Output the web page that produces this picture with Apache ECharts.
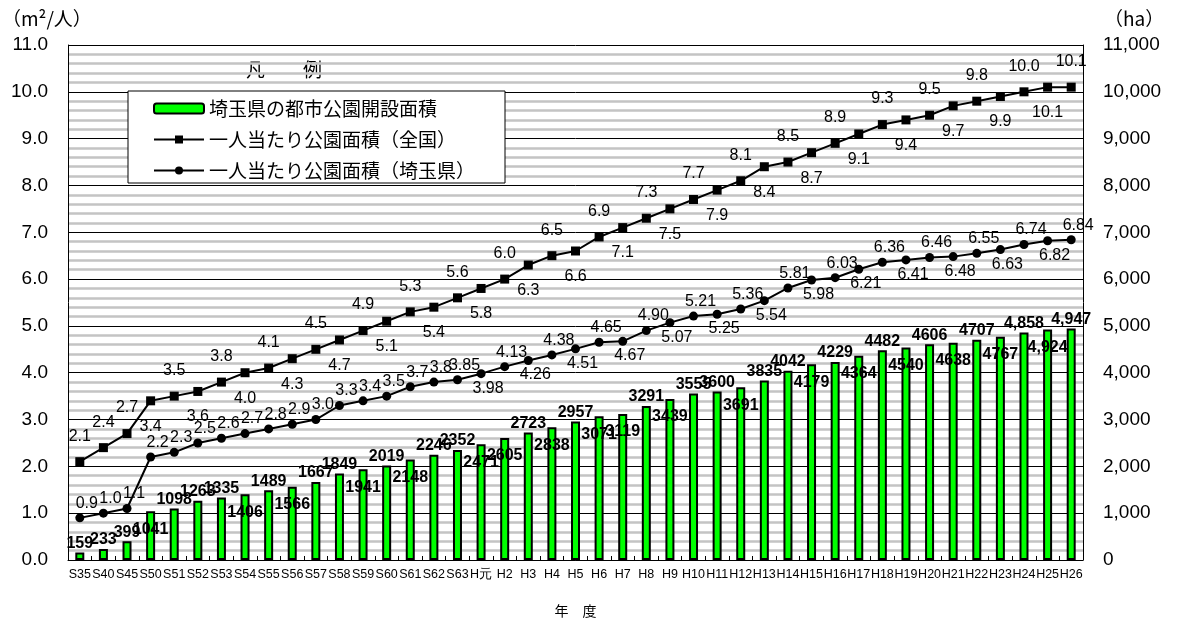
<!DOCTYPE html>
<html><head><meta charset="utf-8">
<script src="https://cdn.jsdelivr.net/npm/echarts@6/dist/echarts.min.js"></script>
<style>html,body{margin:0;padding:0;background:#fff}#c{width:1177px;height:623px}</style>
</head><body><div id="c"></div>
<script>
const categories = ['S35','S40','S45','S50','S51','S52','S53','S54','S55','S56','S57','S58','S59','S60','S61','S62','S63',
  'H元','H2','H3','H4','H5','H6','H7','H8','H9','H10','H11','H12','H13','H14','H15','H16','H17','H18','H19','H20','H21','H22','H23','H24','H25','H26'];
const parkArea = [159,233,399,1041,1098,1263,1335,1406,1489,1566,1667,1849,1941,2019,2148,2246,2352,
  2471,2605,2723,2838,2957,3071,3119,3291,3439,3555,3600,3691,3835,4042,4179,4229,4364,4482,4540,4606,4638,4707,4767,4858,4924,4947];
const nationalPerCapita = [2.1,2.4,2.7,3.4,3.5,3.6,3.8,4.0,4.1,4.3,4.5,4.7,4.9,5.1,5.3,5.4,5.6,
  5.8,6.0,6.3,6.5,6.6,6.9,7.1,7.3,7.5,7.7,7.9,8.1,8.4,8.5,8.7,8.9,9.1,9.3,9.4,9.5,9.7,9.8,9.9,10.0,10.1,10.1];
const saitamaPerCapita = [0.9,1.0,1.1,2.2,2.3,2.5,2.6,2.7,2.8,2.9,3.0,3.3,3.4,3.5,3.7,3.8,3.85,
  3.98,4.13,4.26,4.38,4.51,4.65,4.67,4.90,5.07,5.21,5.25,5.36,5.54,5.81,5.98,6.03,6.21,6.36,6.41,6.46,6.48,6.55,6.63,6.74,6.82,6.84];
const nationalDecimals = 1;
const saitamaDecimals = [1,1,1,1,1,1,1,1,1,1,1,1,1,1,1,1,2,2,2,2,2,2,2,2,2,2,2,2,2,2,2,2,2,2,2,2,2,2,2,2,2,2,2];
const seriesNames = ['埼玉県の都市公園開設面積','一人当たり公園面積（全国）','一人当たり公園面積（埼玉県）'];
// label placement (style, not data)
const barLabelBelow = ['S50','S54','S56','S59','S61','H元','H2','H4','H6','H7','H9','H12','H15','H17','H19','H21','H23','H25'];
const barLabelComma = ['H24','H25','H26'];

const numFont = 'Liberation Sans, Arial, sans-serif';
const jpFont = 'Noto Sans CJK JP, sans-serif';

const barData = parkArea.map((v, i) => {
  const below = barLabelBelow.includes(categories[i]);
  return { value: v, label: below ? { position: 'insideTop', distance: 10 } : { position: 'top', distance: 1 } };
});
const natData = nationalPerCapita.map((v, i) => {
  const up = i < 3 || i % 2 === 0;
  return { value: v, label: { position: up ? 'top' : 'bottom', distance: 13 } };
});
const saiData = saitamaPerCapita.map((v, i) => {
  const up = i < 17 || i % 2 === 0;
  return { value: v, label: { position: up ? 'top' : 'bottom', distance: 2 } };
});

const chart = echarts.init(document.getElementById('c'));
chart.setOption({
  animation: false,
  backgroundColor: '#fff',
  grid: { left: 68, right: 94, top: 45, bottom: 59, containLabel: false },
  graphic: [
    { type: 'text', left: 2, top: 9, style: { text: '（m²/人）', fontSize: 19, fontFamily: jpFont, fill: '#000' } },
    { type: 'text', left: 1104, top: 9, style: { text: '（ha）', fontSize: 19, fontFamily: jpFont, fill: '#000' } },
    { type: 'text', left: 246, top: 60, style: { text: '凡　　例', fontSize: 19, fontFamily: jpFont, fill: '#000' } }
  ],
  legend: {
    orient: 'vertical', left: 128, top: 91,
    data: seriesNames,
    itemWidth: 50, itemHeight: 10, itemGap: 12,
    textStyle: { fontSize: 19, fontFamily: jpFont, color: '#000' },
    backgroundColor: '#fff', borderColor: '#000', borderWidth: 1, borderRadius: 0,
    padding: [8, 30, 3, 25], selectedMode: false
  },
  xAxis: {
    type: 'category', data: categories,
    name: '年　度', nameLocation: 'middle', nameGap: 44,
    nameTextStyle: { fontSize: 14, fontFamily: jpFont, color: '#000' },
    axisLine: { lineStyle: { color: '#000', width: 1 } },
    axisTick: { show: true, inside: true, length: 4, lineStyle: { color: '#000' } },
    axisLabel: { interval: 0, fontSize: 12.5, fontFamily: numFont, color: '#000', margin: 8 }
  },
  yAxis: [
    {
      type: 'value', min: 0, max: 11, interval: 1,
      axisLine: { show: true, lineStyle: { color: '#000' } },
      axisTick: { show: false },
      axisLabel: { formatter: v => v.toFixed(1), fontSize: 19, fontFamily: numFont, color: '#000', margin: 20 },
      splitLine: { show: true, lineStyle: { color: '#000', width: 1 } },
      minorTick: { show: false, splitNumber: 5 },
      minorSplitLine: { show: true, lineStyle: { color: '#c4c4c4', width: 2.5 } }
    },
    {
      type: 'value', min: 0, max: 11000, interval: 1000,
      axisLine: { show: true, lineStyle: { color: '#000' } },
      axisTick: { show: false },
      axisLabel: { formatter: v => v.toLocaleString('en-US'), fontSize: 19, fontFamily: numFont, color: '#000', margin: 20 },
      splitLine: { show: false }
    }
  ],
  series: [
    {
      name: seriesNames[0], type: 'bar', yAxisIndex: 1, barWidth: 9, data: barData,
      itemStyle: { color: '#00ff00', borderColor: '#000', borderWidth: 2 },
      label: {
        show: true, fontSize: 16, fontWeight: 'bold', fontFamily: numFont, color: '#000',
        formatter: p => barLabelComma.includes(p.name) ? p.value.toLocaleString('en-US') : String(p.value)
      },
      z: 2
    },
    {
      name: seriesNames[1], type: 'line', yAxisIndex: 0, data: natData,
      symbol: 'rect', symbolSize: 9,
      lineStyle: { color: '#000', width: 2 }, itemStyle: { color: '#000' },
      label: { show: true, fontSize: 16, fontFamily: numFont, color: '#000',
        formatter: p => p.value.toFixed(nationalDecimals) },
      z: 3
    },
    {
      name: seriesNames[2], type: 'line', yAxisIndex: 0, data: saiData,
      symbol: 'circle', symbolSize: 9,
      lineStyle: { color: '#000', width: 2 }, itemStyle: { color: '#000' },
      label: { show: true, fontSize: 16, fontFamily: numFont, color: '#000', offset: [7, 0],
        formatter: p => p.value.toFixed(saitamaDecimals[p.dataIndex]) },
      z: 3
    }
  ]
});
</script></body></html>
